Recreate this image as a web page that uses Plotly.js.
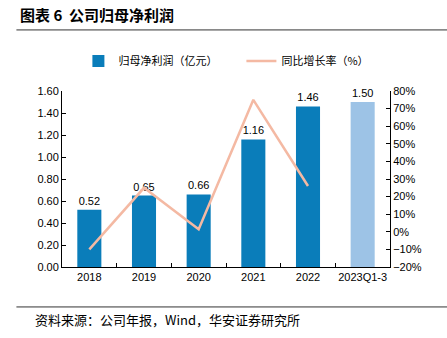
<!DOCTYPE html>
<html>
<head>
<meta charset="utf-8">
<script src="https://cdn.plot.ly/plotly-3.0.1.min.js"></script>
<style>html,body{margin:0;padding:0;background:#fff;}#chart{width:447px;height:338px;}</style>
</head>
<body>
<div id="chart"></div>
<script>
const categories = ['2018', '2019', '2020', '2021', '2022', '2023Q1-3'];
const netProfit = [0.52, 0.65, 0.66, 1.16, 1.46, 1.50];
const growthYears = ['2018', '2019', '2020', '2021', '2022'];
const growthRate = [-10, 25, 1.5, 75, 26];
const barColors = ['#0A7DBA', '#0A7DBA', '#0A7DBA', '#0A7DBA', '#0A7DBA', '#9DC3E6'];

const cjk = '"Noto Sans CJK SC", "Liberation Sans", Arial, sans-serif';
const num = '"Liberation Sans", Arial, sans-serif';

const traces = [
  {
    type: 'bar', x: categories, y: netProfit, name: '归母净利润（亿元）',
    marker: {color: barColors}, width: 0.44,
    text: netProfit.map(v => v.toFixed(2)), textposition: 'outside', cliponaxis: false,
    textfont: {family: num, size: 11, color: '#000'}, yaxis: 'y'
  },
  {
    type: 'scatter', mode: 'lines', x: growthYears, y: growthRate, name: '同比增长率（%）',
    line: {color: '#F4B9A3', width: 2.5}, yaxis: 'y2'
  }
];

const layout = {
  width: 447, height: 338,
  margin: {l: 62, r: 57, t: 91, b: 71},
  paper_bgcolor: '#fff', plot_bgcolor: '#fff',
  font: {family: num, size: 11, color: '#000'},
  showlegend: true,
  legend: {orientation: 'h', x: 0.05, y: 1.17, xanchor: 'left', yanchor: 'middle',
    font: {family: cjk, size: 11, color: '#000'}, itemwidth: 30, entrywidth: 118, entrywidthmode: 'pixels',
    traceorder: 'normal'},
  xaxis: {
    type: 'category', showline: true, linecolor: '#000', linewidth: 1, tickangle: 0,
    ticks: 'inside', ticklen: 4, tickcolor: '#000', tickson: 'boundaries',
    tickfont: {family: num, size: 11, color: '#000'}, showgrid: false, zeroline: false
  },
  yaxis: {
    range: [0, 1.6], dtick: 0.2, tickformat: '.2f', showline: true, linecolor: '#000', linewidth: 1,
    ticks: 'inside', ticklen: 4, tickcolor: '#000', showgrid: false, zeroline: false,
    tickfont: {family: num, size: 11, color: '#000'}
  },
  yaxis2: {
    overlaying: 'y', side: 'right', range: [-20, 80], dtick: 10, ticksuffix: '%',
    showline: true, linecolor: '#000', linewidth: 1, ticks: 'inside', ticklen: 4, tickcolor: '#000',
    showgrid: false, zeroline: false, tickfont: {family: num, size: 11, color: '#000'}
  },
  shapes: [
    {type: 'line', xref: 'paper', yref: 'paper', x0: -0.139, x1: 1.174, y0: 1.347, y1: 1.347,
      line: {color: '#333', width: 1}},
    {type: 'line', xref: 'paper', yref: 'paper', x0: -0.139, x1: 1.174, y0: -0.227, y1: -0.227,
      line: {color: '#333', width: 1}}
  ],
  annotations: [
    {text: '<b>图表 6  公司归母净利润</b>', xref: 'paper', yref: 'paper', x: -0.135, y: 1.432,
      xanchor: 'left', yanchor: 'middle', showarrow: false, font: {family: cjk, size: 15, color: '#000'}},
    {text: '资料来源：公司年报，Wind，华安证券研究所', xref: 'paper', yref: 'paper', x: -0.088, y: -0.30,
      xanchor: 'left', yanchor: 'middle', showarrow: false, font: {family: cjk, size: 13, color: '#000'}}
  ]
};

Plotly.newPlot('chart', traces, layout, {displayModeBar: false, staticPlot: true});
</script>
</body>
</html>
